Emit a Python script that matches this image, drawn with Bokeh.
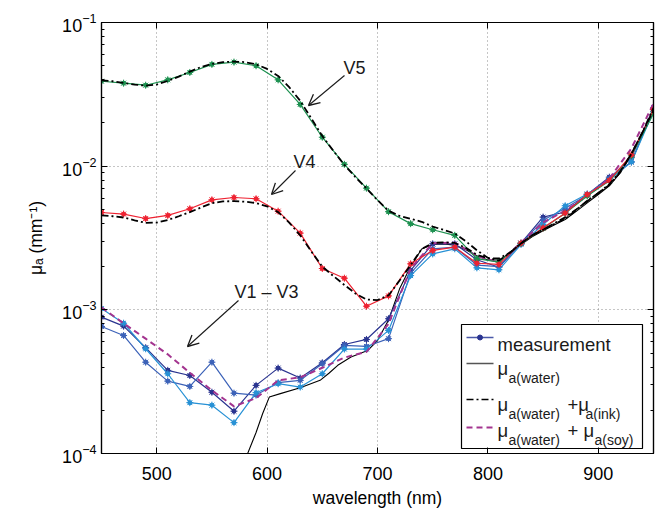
from bokeh.plotting import figure
from bokeh.models import (Range1d, LinearAxis, LogAxis, LogTicker, FixedTicker, Label,
                          Arrow, OpenHead)
from bokeh.embed import file_html
from bokeh.resources import INLINE

# ---------------- data ----------------
wl = [450, 470, 490, 510, 530, 550, 570, 590, 610, 630, 650, 670, 690,
      710, 730, 750, 770, 790, 810, 830, 850, 870, 890, 910, 930, 950]

v5_meas = [0.0390, 0.0378, 0.0366, 0.0399, 0.0449, 0.0511, 0.0530, 0.0500, 0.0399,
           0.0269, 0.0159, 0.0103, 0.00703, 0.00482, 0.00398, 0.00361, 0.00330,
           0.00227, 0.00215, 0.00290, 0.00370, 0.00470, 0.00620, 0.00790, 0.0118, 0.0232]
v4_meas = [0.00476, 0.00464, 0.00432, 0.00454, 0.00505, 0.00583, 0.00605, 0.00593,
           0.00486, 0.00342, 0.00194, 0.00166, 0.00106, 0.00125, 0.00209, 0.00259,
           0.00273, 0.00211, 0.00207, 0.00291, 0.00372, 0.00471, 0.00636, 0.00795,
           0.0120, 0.0247]
v1_meas = [8.90e-4, 7.70e-4, 5.45e-4, 3.79e-4, 3.49e-4, 2.67e-4, 1.97e-4, 2.98e-4,
           3.93e-4, 3.35e-4, 4.28e-4, 5.74e-4, 6.22e-4, 8.67e-4, 1.88e-3, 2.88e-3,
           2.88e-3, 2.23e-3, 1.98e-3, 2.91e-3, 4.42e-3, 4.80e-3, 6.36e-3, 8.38e-3,
           1.07e-2, 2.50e-2]
v2_meas = [7.66e-4, 6.63e-4, 4.32e-4, 3.19e-4, 2.93e-4, 4.32e-4, 2.63e-4, 2.55e-4,
           3.11e-4, 3.23e-4, 4.22e-4, 5.65e-4, 5.56e-4, 6.30e-4, 1.80e-3, 2.66e-3,
           2.73e-3, 2.05e-3, 2.00e-3, 2.90e-3, 4.20e-3, 5.10e-3, 6.30e-3, 8.20e-3,
           1.15e-2, 2.55e-2]
v3_meas = [1.02e-3, 8.07e-4, 5.36e-4, 3.59e-4, 2.26e-4, 2.17e-4, 1.64e-4, 2.65e-4,
           3.06e-4, 2.90e-4, 3.59e-4, 5.33e-4, 5.33e-4, 7.19e-4, 1.73e-3, 2.45e-3,
           2.66e-3, 1.96e-3, 1.90e-3, 2.85e-3, 3.93e-3, 5.30e-3, 6.40e-3, 8.00e-3,
           1.07e-2, 2.40e-2]

soy_fit = [1.04e-3, 8.05e-4, 6.30e-4, 4.90e-4, 3.65e-4, 2.75e-4, 2.13e-4, 2.43e-4,
           3.23e-4, 3.39e-4, 3.95e-4, 4.65e-4, 5.10e-4, 7.99e-4, 1.94e-3, 2.91e-3,
           2.94e-3, 2.37e-3, 2.14e-3, 2.94e-3, 4.05e-3, 4.90e-3, 6.20e-3, 8.20e-3,
           1.33e-2, 2.73e-2]

wl10 = list(range(450, 951, 10))
v5_ink = [0.0396, 0.0390, 0.0380, 0.0370, 0.0363, 0.0370, 0.0392, 0.0420, 0.0455, 0.0490,
          0.0515, 0.0530, 0.0535, 0.0530, 0.0512, 0.0475, 0.0425, 0.0355, 0.0285, 0.0215,
          0.0162, 0.0128, 0.0102, 0.0084, 0.0070, 0.0058, 0.0049, 0.0045, 0.0043, 0.0041,
          0.0038, 0.0036, 0.0034, 0.0030, 0.0026, 0.0023, 0.0022, 0.0025, 0.0029, 0.0033,
          0.0036, 0.0040, 0.0044, 0.0050, 0.0057, 0.0065, 0.0075, 0.0092, 0.0122, 0.0172,
          0.0245]
v4_ink = [4.54e-3, 4.48e-3, 4.39e-3, 4.20e-3, 4.03e-3, 4.05e-3, 4.22e-3, 4.48e-3, 4.79e-3,
          5.15e-3, 5.53e-3, 5.68e-3, 5.71e-3, 5.66e-3, 5.53e-3, 5.25e-3, 4.79e-3, 4.05e-3,
          3.30e-3, 2.55e-3, 2.00e-3, 1.72e-3, 1.49e-3, 1.30e-3, 1.18e-3, 1.17e-3, 1.26e-3,
          1.60e-3, 2.05e-3, 2.65e-3, 2.92e-3, 2.95e-3, 2.92e-3, 2.70e-3, 2.42e-3, 2.28e-3,
          2.28e-3, 2.50e-3, 2.90e-3, 3.30e-3, 3.62e-3, 3.95e-3, 4.30e-3, 4.95e-3, 5.75e-3,
          6.50e-3, 7.40e-3, 9.10e-3, 1.22e-2, 1.72e-2, 2.55e-2]

water_wl = [570, 580, 590, 596, 602, 612, 630, 648, 656, 664, 676, 691, 700, 710, 720,
            730, 740, 750, 760, 770, 780, 790, 800, 810, 820, 830, 840, 850, 860, 870,
            880, 890, 900, 910, 920, 930, 940, 950]
water = [6.5e-5, 9.0e-5, 1.40e-4, 1.90e-4, 2.47e-4, 2.61e-4, 2.87e-4, 3.23e-4, 3.62e-4,
         4.11e-4, 4.69e-4, 5.21e-4, 6.11e-4, 8.5e-4, 1.40e-3, 2.00e-3, 2.65e-3, 2.85e-3,
         2.88e-3, 2.82e-3, 2.62e-3, 2.38e-3, 2.22e-3, 2.22e-3, 2.45e-3, 2.85e-3, 3.22e-3,
         3.55e-3, 3.90e-3, 4.25e-3, 4.85e-3, 5.55e-3, 6.35e-3, 7.30e-3, 9.00e-3, 1.20e-2,
         1.70e-2, 2.45e-2]

x_ticks = [500, 600, 700, 800, 900]

# ---------------- figure ----------------
FONT = "Liberation Sans"
W, H = 656, 512
L, R, T, B = 101, 653, 22, 453
p = figure(width=W, height=H, x_range=Range1d(450, 950), y_range=Range1d(1e-4, 1e-1),
           y_axis_type="log", output_backend="svg", toolbar_location=None,
           min_border_left=L, min_border_right=W - R, min_border_top=T,
           min_border_bottom=H - B)
p.background_fill_color = "white"
p.border_fill_color = "white"
p.outline_line_color = "black"
p.outline_line_width = 1.2


def dx(px):
    return 450 + (px - L) * 500.0 / (R - L)


def dy(py):
    return 10 ** (-1 - 3.0 * (py - T) / (B - T))


xt = FixedTicker(ticks=x_ticks)
p.xaxis.ticker = xt
p.yaxis.ticker = LogTicker(mantissas=[1], num_minor_ticks=10)
for ax in (p.xaxis, p.yaxis):
    ax.major_tick_in = 6
    ax.major_tick_out = 0
    ax.minor_tick_in = 3
    ax.minor_tick_out = 0
    ax.axis_line_color = "black"
    ax.axis_line_width = 1.2
    ax.major_tick_line_color = "black"
    ax.minor_tick_line_color = "black"
    ax.major_label_text_font = FONT
    ax.major_label_text_font_size = "18px"
    ax.major_label_text_color = "black"
    ax.axis_label_text_font = FONT
    ax.axis_label_text_font_size = "17.5px"
    ax.axis_label_text_font_style = "normal"
    ax.axis_label_text_color = "black"
p.xaxis.minor_tick_line_color = None
p.xaxis.major_label_standoff = 13
p.xaxis.axis_label = "wavelength (nm)"
p.xaxis.axis_label_standoff = 5
p.yaxis.major_label_standoff = 5
p.yaxis.axis_label = "μₐ (mm⁻¹)"
p.yaxis.axis_label_standoff = 13

top = LinearAxis(ticker=xt, major_tick_in=6, major_tick_out=0, minor_tick_line_color=None,
                 major_label_text_font_size="1px", major_label_text_alpha=0,
                 major_label_standoff=0, axis_line_color="black", axis_line_width=1.2)
right = LogAxis(ticker=LogTicker(mantissas=[1], num_minor_ticks=10), major_tick_in=6,
                major_tick_out=0, minor_tick_in=3, minor_tick_out=0,
                major_label_text_font_size="1px", major_label_text_alpha=0,
                major_label_standoff=0, axis_line_color="black", axis_line_width=1.2)
p.add_layout(top, "above")
p.add_layout(right, "right")

for g in (p.xgrid, p.ygrid):
    g.grid_line_color = "#8c8c8c"
    g.grid_line_dash = "1 3"
    g.grid_line_width = 1
p.ygrid.minor_grid_line_color = None

# ---------------- curves ----------------
C_V5 = "#1d9150"
C_V4 = "#ee2231"
C_V1 = "#2a3490"
C_V2 = "#3c62b8"
C_V3 = "#2791d5"
C_SOY = "#a3348f"

p.line(water_wl, water, line_color="black", line_width=1.1)

for ys, c in ((v1_meas, C_V1), (v2_meas, C_V2), (v3_meas, C_V3)):
    p.line(wl, ys, line_color=c, line_width=1.2)
    p.scatter(wl, ys, marker="asterisk", size=7, line_color=c, line_width=1)
    p.scatter(wl, ys, marker="circle", size=4, fill_color=c, line_color=c)

p.line(wl, soy_fit, line_color=C_SOY, line_width=2, line_dash="6 4")

for ys, c in ((v5_meas, C_V5), (v4_meas, C_V4)):
    p.line(wl, ys, line_color=c, line_width=1.2)
    p.scatter(wl, ys, marker="asterisk", size=7, line_color=c, line_width=1)
    p.scatter(wl, ys, marker="circle", size=4, fill_color=c, line_color=c)

p.line(wl10, v5_ink, line_color="black", line_width=1.8, line_dash="7 3 2 3")
p.line(wl10, v4_ink, line_color="black", line_width=1.8, line_dash="7 3 2 3")

# ---------------- annotations ----------------
def txt(x, y, s, size="17px", align="center", baseline="middle"):
    p.add_layout(Label(x=x, y=y, text=s, text_font=FONT, text_font_size=size,
                       text_align=align, text_baseline=baseline, text_color="#1a1a1a"))


txt(dx(354), dy(67), "V5", "18px")
txt(dx(304), dy(161), "V4", "18px")
txt(dx(266), dy(291), "V1 – V3", "18px")
for (x0, y0, x1, y1) in ((344, 75, 308, 105), (295, 170, 271, 194), (238, 300, 187, 346)):
    p.add_layout(Arrow(end=OpenHead(size=11, line_width=1.3, line_color="#1a1a1a"),
                       x_start=dx(x0), y_start=dy(y0), x_end=dx(x1), y_end=dy(y1),
                       line_width=1.1, line_color="#1a1a1a"))

# ---------------- legend (manual, to allow subscripts) ----------------
p.quad(left=[dx(461)], right=[dx(642)], top=[dy(324)], bottom=[dy(448)],
       fill_color="white", line_color="black", line_width=1.2)
lx0, lx1 = dx(466), dx(493)
p.line([lx0, lx1], [dy(337), dy(337)], line_color="#4a58a8", line_width=1.3)
p.scatter([dx(479.5)], [dy(337)], marker="circle", size=5, fill_color="#2a3490",
          line_color="#2a3490")
p.line([lx0, lx1], [dy(363), dy(363)], line_color="#555555", line_width=1.3)
p.line([lx0, lx1], [dy(399), dy(399)], line_color="black", line_width=1.6,
       line_dash="7 3 2 3")
p.line([lx0, lx1], [dy(427), dy(427)], line_color=C_SOY, line_width=1.8, line_dash="6 4")

MS, SS = "18.5px", "14px"
txt(dx(497), dy(343.5), "measurement", MS, "left", "alphabetic")
txt(dx(497), dy(368), "μ", MS, "left", "alphabetic")
txt(dx(508), dy(377), "a(water)", SS, "left", "alphabetic")
txt(dx(497), dy(404), "μ", MS, "left", "alphabetic")
txt(dx(508), dy(413), "a(water)", SS, "left", "alphabetic")
txt(dx(567), dy(404), "+μ", MS, "left", "alphabetic")
txt(dx(585), dy(413), "a(ink)", SS, "left", "alphabetic")
txt(dx(497), dy(430), "μ", MS, "left", "alphabetic")
txt(dx(508), dy(439), "a(water)", SS, "left", "alphabetic")
txt(dx(567), dy(430), "+ μ", MS, "left", "alphabetic")
txt(dx(594), dy(439), "a(soy)", SS, "left", "alphabetic")

open("out.html", "w").write(file_html(p, INLINE))
